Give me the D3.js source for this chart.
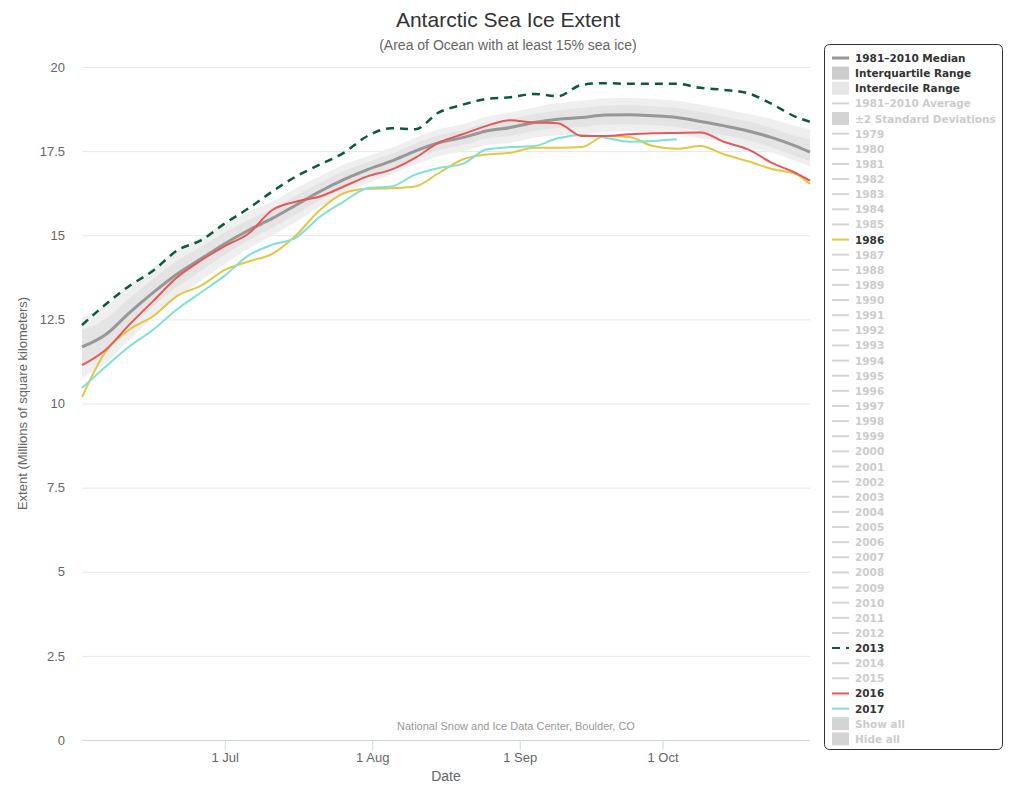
<!DOCTYPE html>
<html>
<head>
<meta charset="utf-8">
<script src="https://cdn.jsdelivr.net/npm/d3@7"></script>
<style>
  body { margin: 0; background: #fff; }
  text { font-family: "Liberation Sans Narrow", "Liberation Sans", Arial, sans-serif; }
  .legend text { font-family: "DejaVu Sans", sans-serif; font-weight: bold; font-size: 10.5px; }
</style>
</head>
<body>
<div id="chart"></div>
<script>
// dates sampled every ~5 days, Jun 1 to Nov 1
var dateLabels = ["2017-06-01", "2017-06-06", "2017-06-11", "2017-06-16", "2017-06-21", "2017-06-26",
  "2017-07-01", "2017-07-06", "2017-07-11", "2017-07-16", "2017-07-21", "2017-07-26", "2017-07-31",
  "2017-08-05", "2017-08-10", "2017-08-15", "2017-08-20", "2017-08-25", "2017-08-30",
  "2017-09-04", "2017-09-09", "2017-09-14", "2017-09-19", "2017-09-24", "2017-09-29",
  "2017-10-04", "2017-10-09", "2017-10-14", "2017-10-19", "2017-10-24", "2017-10-29", "2017-11-01"]

var median = [11.68, 12.05, 12.7, 13.3, 13.85, 14.3, 14.75, 15.15, 15.5, 15.9, 16.3, 16.65, 16.95,
  17.2, 17.5, 17.75, 17.9, 18.1, 18.2, 18.35, 18.45, 18.5, 18.57, 18.58, 18.55, 18.5, 18.38, 18.25,
  18.1, 17.9, 17.65, 17.47]
var decileLow = [10.78, 11.2, 11.9, 12.55, 13.15, 13.65, 14.15, 14.6, 15.0, 15.4, 15.85, 16.2, 16.55,
  16.8, 17.1, 17.35, 17.5, 17.68, 17.75, 17.9, 17.97, 18.0, 18.07, 18.08, 18.05, 18.0, 17.88, 17.75,
  17.6, 17.45, 17.2, 17.05]
var decileHigh = [12.58, 12.9, 13.5, 14.05, 14.55, 14.95, 15.35, 15.7, 16.0, 16.4, 16.75, 17.1, 17.35,
  17.6, 17.9, 18.15, 18.3, 18.52, 18.65, 18.8, 18.93, 19.0, 19.07, 19.08, 19.05, 19.0, 18.88, 18.75,
  18.6, 18.45, 18.25, 18.15]
var quartileLow = [11.18, 11.58, 12.26, 12.89, 13.46, 13.94, 14.42, 14.85, 15.22, 15.62, 16.05, 16.4,
  16.73, 16.98, 17.28, 17.53, 17.68, 17.87, 17.95, 18.1, 18.19, 18.22, 18.29, 18.3, 18.27, 18.22, 18.1,
  17.97, 17.82, 17.61, 17.35, 17.2]
var quartileHigh = [12.18, 12.52, 13.14, 13.71, 14.24, 14.66, 15.08, 15.45, 15.78, 16.18, 16.55, 16.9,
  17.17, 17.42, 17.72, 17.97, 18.12, 18.33, 18.45, 18.6, 18.71, 18.78, 18.85, 18.86, 18.83, 18.78,
  18.66, 18.53, 18.38, 18.19, 17.95, 17.85]

var ext1986 = [10.19, 11.55, 12.2, 12.6, 13.2, 13.5, 13.97, 14.22, 14.45, 15.0, 15.75, 16.25, 16.38,
  16.4, 16.45, 16.85, 17.25, 17.4, 17.45, 17.6, 17.6, 17.62, 17.95, 17.92, 17.65, 17.57, 17.65, 17.4,
  17.2, 16.97, 16.82, 16.52]
var ext2013 = [12.33, 12.95, 13.5, 13.95, 14.55, 14.85, 15.35, 15.8, 16.3, 16.75, 17.1, 17.45, 17.95,
  18.18, 18.15, 18.65, 18.88, 19.05, 19.1, 19.2, 19.13, 19.47, 19.52, 19.5, 19.5, 19.5, 19.38, 19.32,
  19.22, 18.9, 18.52, 18.37]
var ext2016 = [11.14, 11.6, 12.35, 13.05, 13.75, 14.25, 14.68, 15.05, 15.75, 16.0, 16.15, 16.45, 16.75,
  16.95, 17.3, 17.75, 18.0, 18.25, 18.42, 18.35, 18.33, 17.95, 17.95, 18.0, 18.03, 18.04, 18.05, 17.77,
  17.55, 17.15, 16.85, 16.62]
var ext2017 = [10.46, 11.1, 11.7, 12.2, 12.8, 13.3, 13.8, 14.4, 14.72, 14.93, 15.55, 16.0, 16.4,
  16.45, 16.8, 17.0, 17.12, 17.55, 17.62, 17.65, 17.88, 17.98, 17.9, 17.78, 17.8, 17.85]

var yTicks = [0, 2.5, 5, 7.5, 10, 12.5, 15, 17.5, 20]
var xTickLabels = ["2017-07-01", "2017-08-01", "2017-09-01", "2017-10-01"]

var statItems = ["1981–2010 Median", "Interquartile Range", "Interdecile Range",
  "1981–2010 Average", "±2 Standard Deviations"]
var years = [1979, 1980, 1981, 1982, 1983, 1984, 1985, 1986, 1987, 1988, 1989, 1990, 1991, 1992,
  1993, 1994, 1995, 1996, 1997, 1998, 1999, 2000, 2001, 2002, 2003, 2004, 2005, 2006, 2007, 2008,
  2009, 2010, 2011, 2012, 2013, 2014, 2015, 2016, 2017]
var buttonItems = ["Show all", "Hide all"]

var yearColors = {1986: "#e2c744", 2013: "#0c5a38", 2016: "#e8585a", 2017: "#80e0d6"}

var margin = {top: 67, right: 206, bottom: 60, left: 82}
var width = 1016 - margin.left - margin.right,
    height = 800 - margin.top - margin.bottom

var svg = d3.select("#chart")
  .append("svg")
  .attr("width", 1016)
  .attr("height", 800)

var g = svg.append("g")
  .attr("transform", "translate(" + margin.left + "," + margin.top + ")")

var parseDate = d3.timeParse("%Y-%m-%d")
var dates = dateLabels.map(parseDate)

var xPositionScale = d3.scaleTime()
  .domain([parseDate("2017-06-01"), parseDate("2017-11-01")])
  .range([0, width])
var yPositionScale = d3.scaleLinear().domain([0, 20]).range([height, 0])

// title + subtitle
svg.append("text")
  .attr("x", 508).attr("y", 27)
  .attr("text-anchor", "middle")
  .attr("font-size", 21)
  .attr("fill", "#333")
  .text("Antarctic Sea Ice Extent")
svg.append("text")
  .attr("x", 508).attr("y", 50)
  .attr("text-anchor", "middle")
  .attr("font-size", 14)
  .attr("fill", "#666")
  .text("(Area of Ocean with at least 15% sea ice)")

// grid + y axis
var yAxis = d3.axisLeft(yPositionScale)
  .tickValues(yTicks)
  .tickSize(-width)
  .tickPadding(17)
  .tickFormat(d3.format("~g"))

g.append("g")
  .attr("class", "axis y-axis")
  .call(yAxis)
  .call(function(s) {
    s.select(".domain").remove()
    s.selectAll(".tick line").attr("stroke", "#e6e6e6")
    s.selectAll(".tick text").attr("fill", "#666").attr("font-size", 13)
  })

// bands
var bandData = dates.map(function(d, i) {
  return {date: d, dLow: decileLow[i], dHigh: decileHigh[i], qLow: quartileLow[i], qHigh: quartileHigh[i]}
})

var decileArea = d3.area()
  .x(d => xPositionScale(d.date))
  .y0(d => yPositionScale(d.dLow))
  .y1(d => yPositionScale(d.dHigh))
  .curve(d3.curveMonotoneX)
var quartileArea = d3.area()
  .x(d => xPositionScale(d.date))
  .y0(d => yPositionScale(d.qLow))
  .y1(d => yPositionScale(d.qHigh))
  .curve(d3.curveMonotoneX)

g.append("path").datum(bandData)
  .attr("d", decileArea)
  .attr("fill", "#efefef")
g.append("path").datum(bandData)
  .attr("d", quartileArea)
  .attr("fill", "#e4e4e4")

var line = d3.line()
  .x(d => xPositionScale(d.date))
  .y(d => yPositionScale(d.value))
  .curve(d3.curveMonotoneX)

function series(values) {
  return values.map(function(v, i) { return {date: dates[i], value: v} })
}

g.append("path").datum(series(median))
  .attr("d", line)
  .attr("fill", "none")
  .attr("stroke", "#979797")
  .attr("stroke-width", 3)

g.append("path").datum(series(ext1986))
  .attr("d", line).attr("fill", "none")
  .attr("stroke", yearColors[1986]).attr("stroke-width", 2)
g.append("path").datum(series(ext2017))
  .attr("d", line).attr("fill", "none")
  .attr("stroke", yearColors[2017]).attr("stroke-width", 2)
g.append("path").datum(series(ext2016))
  .attr("d", line).attr("fill", "none")
  .attr("stroke", yearColors[2016]).attr("stroke-width", 2)
g.append("path").datum(series(ext2013))
  .attr("d", line).attr("fill", "none")
  .attr("stroke", yearColors[2013]).attr("stroke-width", 2.5)
  .attr("stroke-dasharray", "8,6")

// x axis
var xAxis = d3.axisBottom(xPositionScale)
  .tickValues(xTickLabels.map(parseDate))
  .tickSize(10)
  .tickPadding(3)
  .tickFormat(d3.timeFormat("%-d %b"))

g.append("g")
  .attr("class", "axis x-axis")
  .attr("transform", "translate(0," + height + ")")
  .call(xAxis)
  .call(function(s) {
    s.select(".domain").attr("stroke", "#ccd6eb").attr("d", "M0,0.5H" + width)
    s.selectAll(".tick line").attr("stroke", "#ccd6eb")
    s.selectAll(".tick text").attr("fill", "#666").attr("font-size", 13)
  })

svg.append("text")
  .attr("x", margin.left + width / 2).attr("y", 781)
  .attr("text-anchor", "middle")
  .attr("font-size", 14)
  .attr("fill", "#666")
  .text("Date")

svg.append("text")
  .attr("transform", "translate(27," + (margin.top + height / 2) + ") rotate(-90)")
  .attr("text-anchor", "middle")
  .attr("font-size", 13)
  .attr("fill", "#666")
  .text("Extent (Millions of square kilometers)")

svg.append("text")
  .attr("x", 516).attr("y", 730)
  .attr("text-anchor", "middle")
  .attr("font-size", 11)
  .attr("fill", "#999")
  .text("National Snow and Ice Data Center, Boulder, CO")

// legend
var legend = svg.append("g").attr("class", "legend")
legend.append("rect")
  .attr("x", 824.5).attr("y", 44.5)
  .attr("width", 178).attr("height", 705)
  .attr("rx", 5)
  .attr("fill", "#fff")
  .attr("stroke", "#333")

var items = []
statItems.forEach(function(s, i) {
  var isBox = (i == 1 || i == 2 || i == 4)
  var color = ["#979797", "#cccccc", "#e6e6e6", "#d4d4d4", "#d4d4d4"][i]
  items.push({label: s, type: isBox ? "box" : "line", active: i < 3, color: color, wide: i == 0})
})
years.forEach(function(y) {
  items.push({label: String(y), type: "line", active: !!yearColors[y], color: yearColors[y] || "#d4d4d4", dashed: y == 2013})
})
buttonItems.forEach(function(b) {
  items.push({label: b, type: "box", active: false, color: "#d4d4d4"})
})

var row = legend.selectAll(".item")
  .data(items)
  .enter().append("g")
  .attr("class", "item")
  .attr("transform", (d, i) => "translate(832," + (58 + i * 15.13) + ")")

row.filter(d => d.type == "line")
  .append("line")
  .attr("x1", 0).attr("x2", 17)
  .attr("stroke", d => d.color)
  .attr("stroke-width", d => d.wide ? 3 : 2)
  .attr("stroke-dasharray", d => d.dashed ? "8,6" : null)

row.filter(d => d.type == "box")
  .append("rect")
  .attr("x", 0).attr("y", -6.5)
  .attr("width", 17).attr("height", 13)
  .attr("fill", d => d.color)

row.append("text")
  .attr("x", 23).attr("y", 4)
  .attr("fill", d => d.active ? "#333" : "#cccccc")
  .text(d => d.label)
</script>
</body>
</html>
